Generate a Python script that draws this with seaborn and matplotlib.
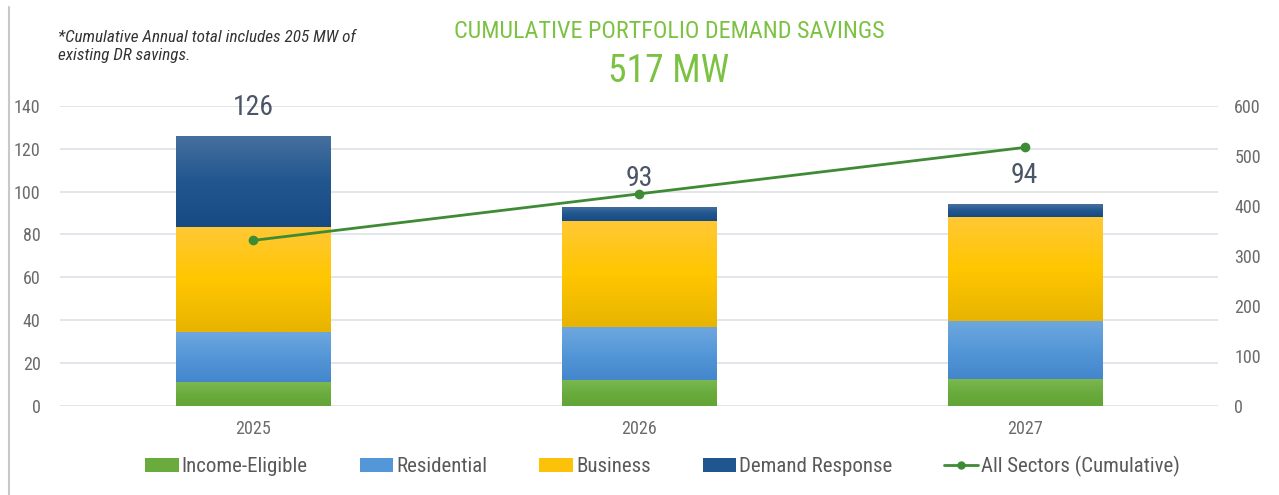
import matplotlib
matplotlib.use("Agg")
import matplotlib.pyplot as plt
import seaborn as sns
import numpy as np
import pandas as pd
from matplotlib import font_manager
from matplotlib.colors import LinearSegmentedColormap
from matplotlib.lines import Line2D
from matplotlib.patches import Patch

# data
years = ["2025", "2026", "2027"]
income_eligible = [11.0, 12.2, 12.7]
residential = [23.5, 24.6, 27.0]
business = [49.0, 49.4, 48.6]
demand_response = [42.5, 6.8, 5.7]
totals = [126, 93, 94]
cumulative = [331, 424, 517]

series_names = ["Income-Eligible", "Residential", "Business", "Demand Response"]
series_vals = [income_eligible, residential, business, demand_response]
colors = ["#6aab3e", "#5497d8", "#fcc20a", "#1f5690"]
# top / middle / bottom of each bar's gradient
gradients = [
    ["#7cb951", "#6aab3e", "#62a436"],
    ["#6ea7de", "#5497d8", "#4486cb"],
    ["#ffc834", "#ffc600", "#e8b400"],
    ["#46709e", "#21578f", "#174a82"],
]

sns.set_theme(style="white")
installed = {f.name for f in font_manager.fontManager.ttflist}
narrow = [n for n in ["Roboto Condensed", "Liberation Sans Narrow", "Open Sans Condensed",
                      "DejaVu Sans Condensed", "Arial Narrow"] if n in installed]
font_list = narrow + ["Roboto", "DejaVu Sans"]
scale = 1.0 if narrow else 0.82
plt.rcParams["font.family"] = font_list

fig = plt.figure(figsize=(12.79, 4.95), dpi=100)
ax = fig.add_axes([0.047, 0.180, 0.905, 0.606])

df = pd.DataFrame({"year": years})
bottom = np.zeros(len(years))
for name, vals, col in zip(series_names, series_vals, colors):
    df["v"] = vals
    sns.barplot(data=df, x="year", y="v", color=col, width=0.4, bottom=bottom,
                ax=ax, saturation=1, linewidth=0, zorder=3)
    bottom = bottom + np.array(vals)

ax.set_xlim(-0.5, 2.5)
ax.set_ylim(0, 140)

# vertical gradient on each bar segment, clipped to the bar
for k, p in enumerate(ax.patches):
    cmap = LinearSegmentedColormap.from_list("g", gradients[k // len(years)][::-1])
    x0, y0 = p.get_x(), p.get_y()
    w, h = p.get_width(), p.get_height()
    im = ax.imshow(np.linspace(0, 1, 64).reshape(-1, 1), cmap=cmap, origin="lower",
                   extent=[x0, x0 + w, y0, y0 + h], aspect="auto", zorder=3.5,
                   interpolation="bilinear")
    im.set_clip_path(p)
ax.set_xlim(-0.5, 2.5)
ax.set_ylim(0, 140)

for i, t in enumerate(totals):
    ax.text(i, bottom[i] + 13.3, str(t), ha="center", va="center",
            fontsize=20 * scale, color="#4a5568")

ax.set_yticks(range(0, 141, 20))
ax.yaxis.grid(True, color="#dde1e8", linewidth=1.2, zorder=0)
ax.set_axisbelow(True)
ax.set_xlabel("")
ax.set_ylabel("")
for s in ax.spines.values():
    s.set_visible(False)
ax.tick_params(axis="x", length=0, labelsize=13 * scale, colors="#6b6b6b", pad=10)
ax.tick_params(axis="y", length=0, labelsize=13 * scale, colors="#6b6b6b", pad=14)

ax2 = ax.twinx()
sns.lineplot(x=[0, 1, 2], y=cumulative, ax=ax2, color="#3f8b35", linewidth=2,
             marker="o", markersize=7, markeredgewidth=0, zorder=5)
ax2.set_ylim(0, 600)
ax2.set_yticks(range(0, 601, 100))
ax2.set_ylabel("")
for s in ax2.spines.values():
    s.set_visible(False)
ax2.tick_params(axis="y", length=0, labelsize=13 * scale, colors="#6b6b6b", pad=12)

fig.text(0.523, 0.937, "CUMULATIVE PORTFOLIO DEMAND SAVINGS", ha="center", va="center",
         fontsize=17.4 * scale, color="#7cc242")
fig.text(0.523, 0.855, "517 MW", ha="center", va="center", fontsize=27 * scale, color="#7cc242")
fig.text(0.045, 0.906, "*Cumulative Annual total includes 205 MW of\nexisting DR savings.",
         ha="left", va="center", fontsize=12.3 * scale, style="italic", color="#333333",
         linespacing=1.3)

handles = [Patch(facecolor=c, edgecolor="none", label=n) for n, c in zip(series_names, colors)]
handles.append(Line2D([0], [0], color="#3f8b35", marker="o", markersize=5, linewidth=2,
                      label="All Sectors (Cumulative)"))
fig.legend(handles=handles, loc="center", bbox_to_anchor=(0.518, 0.058), ncol=5, frameon=False,
           fontsize=15 * scale, handlelength=1.6, handleheight=0.7, handletextpad=0.15,
           columnspacing=2.5 * scale, labelcolor="#595959")

fig.add_artist(Line2D([0.007, 0.007], [0, 0.985], color="#c8c8c8", linewidth=1.5))

fig.savefig("out.png", dpi=100)
